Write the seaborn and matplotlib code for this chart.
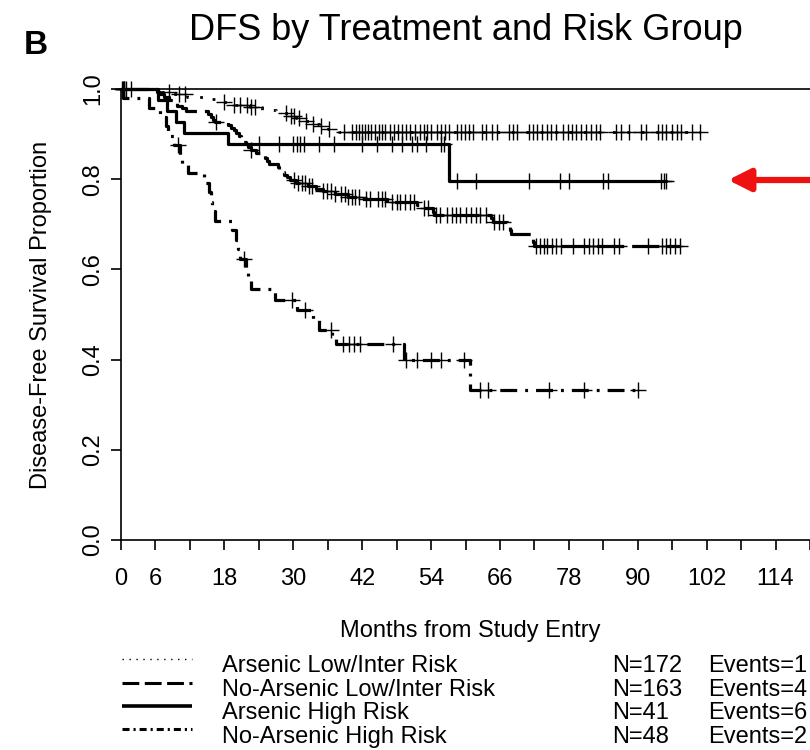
import numpy as np
import pandas as pd
import matplotlib.pyplot as plt
import seaborn as sns

sns.set_theme(style='white')
plt.rcParams['font.family'] = ['Liberation Sans', 'DejaVu Sans']
plt.rcParams['text.color'] = 'black'
plt.rcParams['axes.labelcolor'] = 'black'

# Kaplan-Meier steps: month of each drop and survival after it
# Arsenic Low/Inter Risk
ali_times = [5.5, 8.5, 11.5, 14.5, 16.5, 19.5, 22.5, 24.5, 27.0, 29.5, 30.5, 31.5, 33.0, 34.5, 36.0, 38.0]
ali_surv = [0.994, 0.988, 0.982, 0.977, 0.971, 0.965, 0.959, 0.953, 0.947, 0.941, 0.935, 0.929,
            0.923, 0.917, 0.911, 0.905]
ali_cens = [0.2, 0.5, 0.9, 1.8, 8.3, 10.1, 11.2, 18.0, 19.6, 20.8, 22.0, 22.6, 23.4, 28.8, 29.6,
            30.2, 31.0, 32.3, 33.5, 34.8, 36.2, 38.8, 40.2, 40.9, 41.4, 42.0, 42.5, 43.1, 43.6,
            44.2, 44.9, 45.4, 46.0, 46.8, 47.5, 48.3, 48.9, 49.6, 50.4, 51.2, 52.0, 52.8, 53.3,
            54.0, 55.1, 55.8, 56.5, 57.2, 58.6, 59.3, 59.9, 60.6, 61.3, 62.9, 63.6, 64.6, 65.5,
            67.6, 68.3, 69.0, 71.0, 71.8, 72.5, 73.4, 74.2, 74.9, 75.8, 77.0, 77.8, 78.6, 79.2,
            80.1, 81.0, 81.9, 82.7, 83.4, 86.2, 87.0, 88.4, 90.5, 91.4, 93.6, 94.3, 95.0, 96.0,
            96.8, 97.6, 99.4, 100.9]

# No-Arsenic Low/Inter Risk
nli_times = [6.3, 6.8, 7.5, 8.3, 9.0, 9.8, 10.6, 11.3, 15.2, 15.6, 16.0, 16.4, 18.6, 19.1, 19.6,
             20.0, 20.5, 20.9, 21.3, 21.7, 22.2, 22.6, 23.5, 24.3, 25.0, 25.4, 25.8, 27.3, 27.6,
             28.0, 28.4, 28.9, 29.5, 30.5, 32.5, 34.0, 35.2, 37.2, 39.5, 42.0, 46.4, 51.6, 52.2,
             54.3, 54.6, 64.4, 64.8, 67.3, 67.7, 68.0, 71.4, 71.7, 72.0]
nli_surv = [0.994, 0.988, 0.982, 0.975, 0.969, 0.963, 0.957, 0.951, 0.945, 0.939, 0.932, 0.926,
            0.920, 0.914, 0.908, 0.902, 0.896, 0.889, 0.883, 0.877, 0.871, 0.865, 0.859, 0.853,
            0.847, 0.840, 0.834, 0.828, 0.822, 0.816, 0.810, 0.804, 0.798, 0.791, 0.785, 0.779,
            0.773, 0.767, 0.761, 0.755, 0.749, 0.743, 0.736, 0.728, 0.721, 0.713, 0.705, 0.697,
            0.688, 0.679, 0.670, 0.661, 0.652]
nli_cens = [16.6, 22.6, 30.2, 30.8, 31.5, 32.0, 32.7, 33.3, 35.2, 35.9, 36.6, 37.3, 38.4, 39.0,
            39.6, 40.3, 40.8, 41.5, 42.6, 43.3, 44.8, 45.4, 46.0, 47.2, 48.0, 48.6, 49.5, 50.3,
            51.0, 52.8, 53.4, 54.8, 55.5, 56.8, 57.6, 58.3, 59.0, 60.0, 60.9, 61.8, 62.6, 63.5,
            65.0, 65.8, 66.6, 72.3, 72.9, 73.6, 74.2, 75.0, 75.8, 76.6, 78.8, 80.7, 81.5, 82.2,
            83.0, 83.8, 85.8, 86.8, 91.8, 94.2, 95.0, 95.6, 96.5, 97.3]

# Arsenic High Risk
ahr_times = [6.5, 8.0, 9.5, 11.0, 18.6, 57.2]
ahr_surv = [0.976, 0.951, 0.927, 0.902, 0.877, 0.797]
ahr_cens = [0.3, 0.6, 24.1, 27.5, 30.0, 30.6, 31.2, 31.8, 34.4, 37.1, 42.0, 44.6, 47.2, 48.9,
            50.6, 51.6, 53.2, 55.7, 56.2, 58.5, 61.9, 71.1, 76.4, 78.1, 83.9, 84.8, 94.0, 94.5, 95.0]

# No-Arsenic High Risk
nhr_times = [0.3, 4.8, 6.8, 7.8, 8.2, 9.3, 10.2, 10.6, 11.6, 14.5, 15.3, 15.6, 15.9, 16.4, 19.3,
             20.0, 20.4, 20.8, 21.8, 22.2, 22.6, 26.8, 30.6, 33.5, 34.5, 36.8, 37.5, 49.3, 60.8]
nhr_surv = [0.979, 0.958, 0.938, 0.917, 0.896, 0.875, 0.854, 0.833, 0.813, 0.792, 0.771, 0.750,
            0.729, 0.708, 0.687, 0.666, 0.645, 0.624, 0.603, 0.582, 0.556, 0.532, 0.510, 0.487,
            0.466, 0.448, 0.435, 0.399, 0.333]
nhr_cens = [10.0, 21.4, 29.7, 32.0, 36.6, 38.6, 39.7, 40.5, 41.7, 47.4, 49.6, 51.5, 54.0, 55.7,
            59.7, 62.6, 63.9, 74.5, 80.7, 90.1]

group_names = ['Arsenic Low/Inter Risk', 'No-Arsenic Low/Inter Risk',
               'Arsenic High Risk', 'No-Arsenic High Risk']
n_labels = ['N=172', 'N=163', 'N=41', 'N=48']
event_labels = ['Events=1', 'Events=4', 'Events=6', 'Events=2']
month_ticks = list(range(0, 121, 6))
month_labels = ['0', '6', '', '18', '', '30', '', '42', '', '54', '', '66', '', '78', '',
                '90', '', '102', '', '114', '']

curves = [(ali_times, ali_surv, ali_cens), (nli_times, nli_surv, nli_cens),
          (ahr_times, ahr_surv, ahr_cens), (nhr_times, nhr_surv, nhr_cens)]

# line styles (dash patterns in units of line width)
plot_styles = [dict(lw=2.0, ls=(0, (1, 4.2))),
               dict(lw=2.3, ls=(0, (8.5, 2.5))),
               dict(lw=2.3, ls='-'),
               dict(lw=2.3, ls=(0, (5.3, 2.5, 0.9, 2.5)))]
legend_styles = [dict(lw=1.0, ls=(0, (1, 4))),
                 dict(lw=2.2, ls=(0, (5.5, 1.8))),
                 dict(lw=2.6, ls='-'),
                 dict(lw=2.2, ls=(0, (2.3, 1.3, 0.7, 1.3)))]

fig = plt.figure(figsize=(8.1, 7.5), dpi=100)
W, H = 810, 750
ax = fig.add_axes([121 / W, 1 - 540 / H, (W - 121) / W, 451 / H])

for (t, s, c), st in zip(curves, plot_styles):
    end = max(c)
    df = pd.DataFrame({'month': [0] + t + [end], 'surv': [1.0] + s + [s[-1]]})
    sns.lineplot(data=df, x='month', y='surv', drawstyle='steps-post', estimator=None,
                 sort=False, color='black', linewidth=st['lw'], linestyle=st['ls'],
                 ax=ax, clip_on=False)
    idx = np.searchsorted(t, c, side='right')
    cy = np.array([1.0] + s)[idx]
    sns.scatterplot(x=c, y=cy, marker='+', s=120, color='black', linewidth=1.0,
                    ax=ax, clip_on=False, zorder=3)

ax.set_xlim(0, (W - 121) / 5.87)
ax.set_ylim(0, 1)
ax.set_xticks(month_ticks)
ax.set_xticklabels(month_labels)
ax.set_yticks([0, 0.2, 0.4, 0.6, 0.8, 1.0])
ax.set_yticklabels(['0.0', '0.2', '0.4', '0.6', '0.8', '1.0'])
ax.set_yticks([0.1, 0.3, 0.5, 0.7, 0.9], minor=True)
ax.tick_params(axis='both', which='both', direction='out', length=7, width=1.2,
               color='black', labelsize=17, labelcolor='black')
ax.tick_params(axis='x', pad=13, bottom=True)
ax.tick_params(axis='y', pad=5, left=True, labelrotation=90)
for lab in ax.get_yticklabels():
    lab.set_va('center')
for side in ['left', 'bottom', 'top']:
    ax.spines[side].set_color('black')
    ax.spines[side].set_linewidth(1.2)
ax.spines['right'].set_visible(False)

ax.set_xlabel('Months from Study Entry', fontsize=17)
ax.xaxis.set_label_coords((470 - 121) / 689, (540 - 631) / 451)
ax.xaxis.label.set_va('center')
ax.set_ylabel('Disease-Free Survival Proportion', fontsize=17)
ax.yaxis.set_label_coords((41 - 121) / 689, 0.5)
ax.yaxis.label.set_va('center')

# overlay in pixel coordinates for title, panel letter, legend and arrow
ov = fig.add_axes([0, 0, 1, 1], facecolor='none')
ov.set_xlim(0, W)
ov.set_ylim(H, 0)
ov.axis('off')

ov.text(466, 30, 'DFS by Treatment and Risk Group', fontsize=26, ha='center', va='center')
ov.text(36, 46, 'B', fontsize=24, fontweight='bold', ha='center', va='center')

sample_y = [659, 683, 706, 729]
text_y = [666, 690, 713, 737]
for i in range(4):
    st = legend_styles[i]
    ov.plot([122, 192], [sample_y[i], sample_y[i]], color='black', linewidth=st['lw'],
            linestyle=st['ls'], solid_capstyle='butt', dash_capstyle='butt')
    ov.text(222, text_y[i], group_names[i], fontsize=17, va='center', ha='left')
    ov.text(612, text_y[i], n_labels[i], fontsize=17, va='center', ha='left')
    ov.text(708, text_y[i], event_labels[i], fontsize=17, va='center', ha='left')

ov.annotate('', xy=(728, 180), xytext=(812, 180),
            arrowprops=dict(arrowstyle='-|>,head_length=1.1,head_width=0.55',
                            color='#ee1111', lw=4.5, shrinkA=0, shrinkB=0))

fig.savefig('out.png', dpi=100)
